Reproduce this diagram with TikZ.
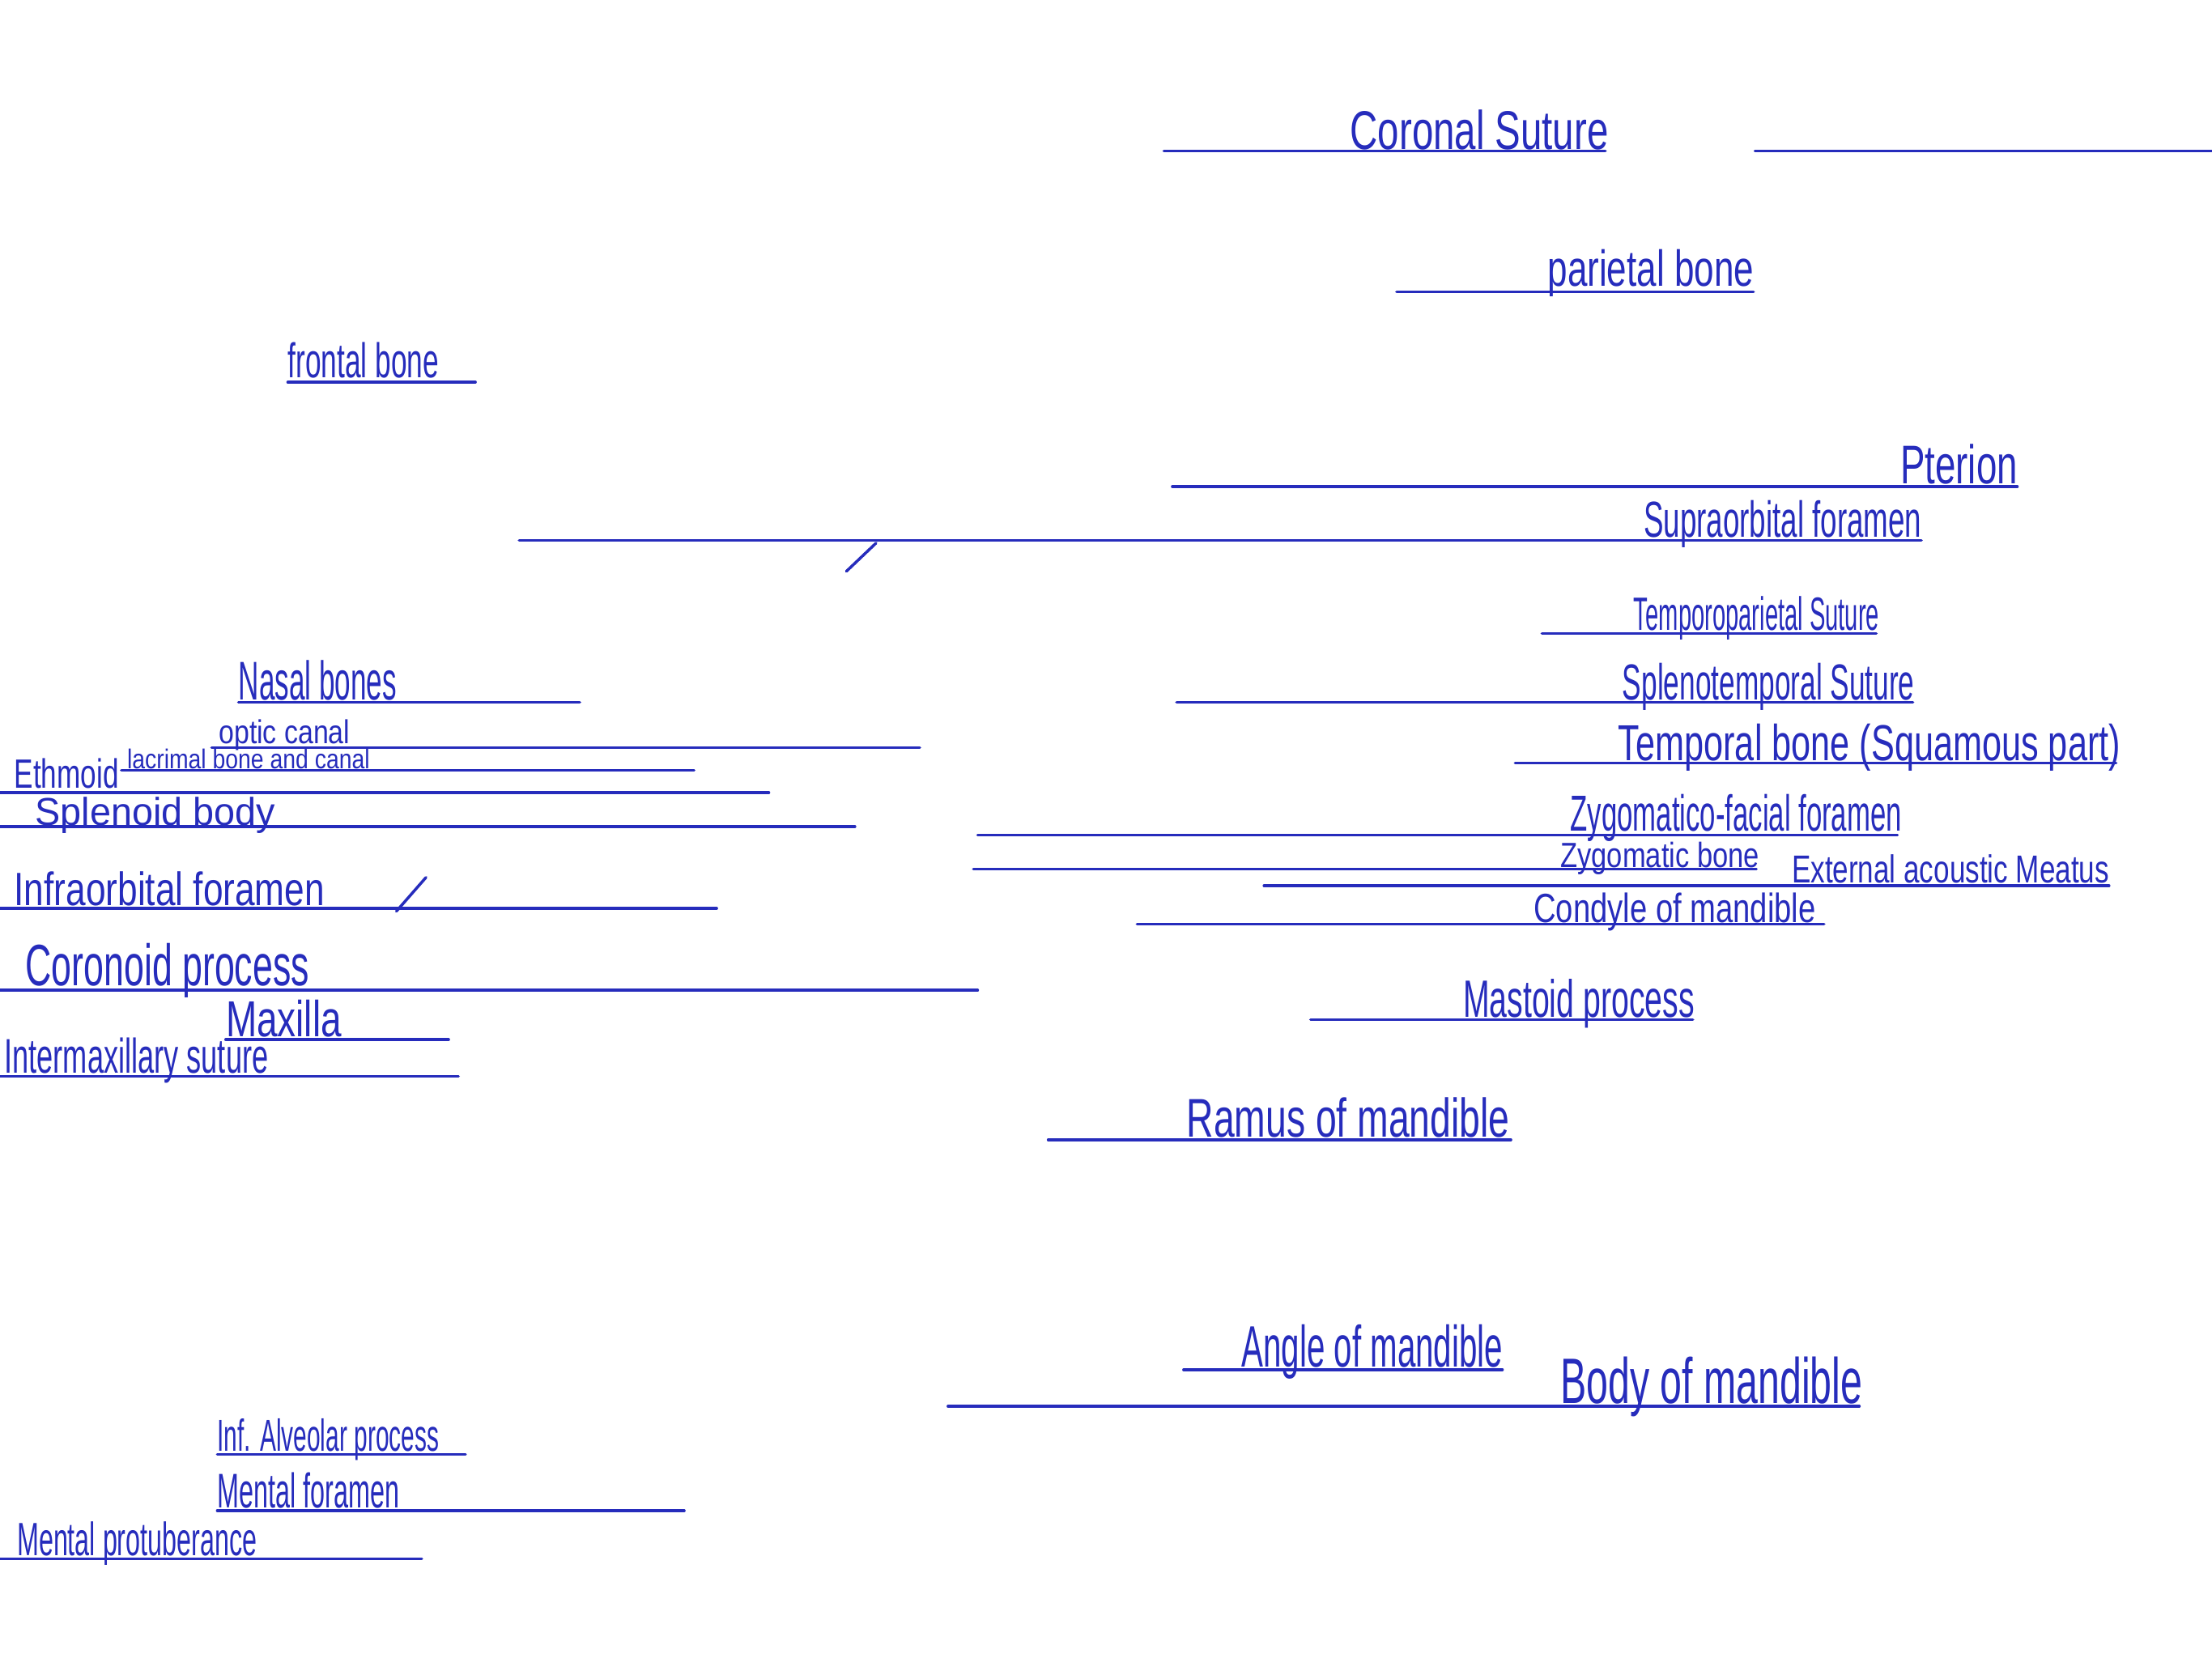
\documentclass[tikz,border=0pt]{standalone}
\usepackage{fontspec}
\setmainfont{Liberation Sans}
\usepackage{graphicx}
\usepackage{tikz}
\usetikzlibrary{positioning}
\definecolor{ink}{RGB}{38,44,188}
\newlength\px
\setlength\px{0.5mm}
% handwritten label squeezed to the size it has in the sketch
\newcommand{\hand}[3]{\resizebox{#1\px}{#2\px}{#3}}

\begin{document}
\begin{tikzpicture}[
  x=0.5mm, y=-0.5mm,
  lbl/.style={text=ink, inner sep=0pt, anchor=base west},
  leader/.style={draw=ink, line width=1mm, line cap=round}
]
\fill[white] (0,0) rectangle (1568,1175);
\useasboundingbox (0,0) rectangle (1568,1175);

% skull vault, right side
\node[lbl] (coronal) at (957,106) {\hand{183}{28}{Coronal Suture}};
\draw[leader] (825,107) -- (1138,107);
\draw[leader] (1244,107) -- (1568,107);
\node[lbl] (parietal) at (1097,203) {\hand{146}{26}{parietal bone}};
\draw[leader] (990,207) -- (1243,207);
\node[lbl] (pterion) at (1347,343) {\hand{83}{28}{Pterion}};
\draw[leader] (831,345) -- (1430,345);
\node[lbl] (supraorb) at (1165,381) {\hand{197}{26}{Supraorbital foramen}};
\draw[leader] (368,383) -- (1362,383);
\draw[leader] (600,405) -- (621,385);
\node[lbl] (tempopar) at (1158,447) {\hand{174}{24}{Temporoparietal Suture}};
\draw[leader] (1093,449) -- (1330,449);
\node[lbl] (sphenotemp) at (1150,496) {\hand{207}{26}{Splenotemporal Suture}};
\draw[leader] (834,498) -- (1356,498);
\node[lbl] (temporal) at (1147,539) {\hand{356}{26}{Temporal bone (Squamous part)}};
\draw[leader] (1074,541) -- (1500,541);
\node[lbl] (zygfacial) at (1113,589) {\hand{235}{26}{Zygomatico-facial foramen}};
\draw[leader] (693,592) -- (1345,592);
\node[lbl] (zygbone) at (1106,615) {\hand{141}{18}{Zygomatic bone}};
\draw[leader] (690,616) -- (1245,616);
\node[lbl] (extmeatus) at (1270,626) {\hand{225}{20}{External acoustic Meatus}};
\draw[leader] (896,628) -- (1495,628);
\node[lbl] (condyle) at (1087,654) {\hand{200}{21}{Condyle of mandible}};
\draw[leader] (806,655) -- (1293,655);
\node[lbl] (mastoid) at (1037,721) {\hand{164}{27}{Mastoid process}};
\draw[leader] (929,723) -- (1200,723);
\node[lbl] (ramus) at (841,806) {\hand{229}{28}{Ramus of mandible}};
\draw[leader] (743,808) -- (1071,808);
\node[lbl] (angle) at (880,969) {\hand{185}{30}{Angle of mandible}};
\draw[leader] (839,971) -- (1065,971);
\node[lbl] (body) at (1106,995) {\hand{214}{33}{Body of mandible}};
\draw[leader] (672,997) -- (1318,997);

% face, left side
\node[lbl] (frontal) at (204,268) {\hand{107}{25}{frontal bone}};
\draw[leader] (204,271) -- (337,271);
\node[lbl] (nasal) at (169,496) {\hand{112}{28}{Nasal bones}};
\draw[leader] (169,498) -- (411,498);
\node[lbl] (optic) at (155,527) {\hand{93}{17}{optic canal}};
\draw[leader] (150,530) -- (652,530);
\node[lbl] (lacrimal) at (90,545) {\hand{172}{14}{lacrimal bone and canal}};
\draw[leader] (86,546) -- (492,546);
\node[lbl] (ethmoid) at (10,559) {\hand{74}{21}{Ethmoid}};
\draw[leader] (0,562) -- (545,562);
\node[lbl] (sphenoid) at (25,585) {\hand{170}{20}{Splenoid body}};
\draw[leader] (0,586) -- (606,586);
\node[lbl] (infraorb) at (10,642) {\hand{220}{24}{Infraorbital foramen}};
\draw[leader] (0,644) -- (508,644);
\draw[leader] (281,646) -- (302,622);
\node[lbl] (coronoid) at (18,699) {\hand{201}{30}{Coronoid process}};
\draw[leader] (0,702) -- (693,702);
\node[lbl] (maxilla) at (160,735) {\hand{82}{26}{Maxilla}};
\draw[leader] (160,737) -- (318,737);
\node[lbl] (intermax) at (3,761) {\hand{187}{25}{Intermaxillary suture}};
\draw[leader] (0,763) -- (325,763);
\node[lbl] (infalv) at (154,1029) {\hand{157}{23}{Inf. Alveolar process}};
\draw[leader] (154,1031) -- (330,1031);
\node[lbl] (mentfor) at (154,1069) {\hand{129}{25}{Mental foramen}};
\draw[leader] (154,1071) -- (485,1071);
\node[lbl] (mentprot) at (12,1103) {\hand{170}{24}{Mental protuberance}};
\draw[leader] (0,1105) -- (299,1105);
\end{tikzpicture}
\end{document}
